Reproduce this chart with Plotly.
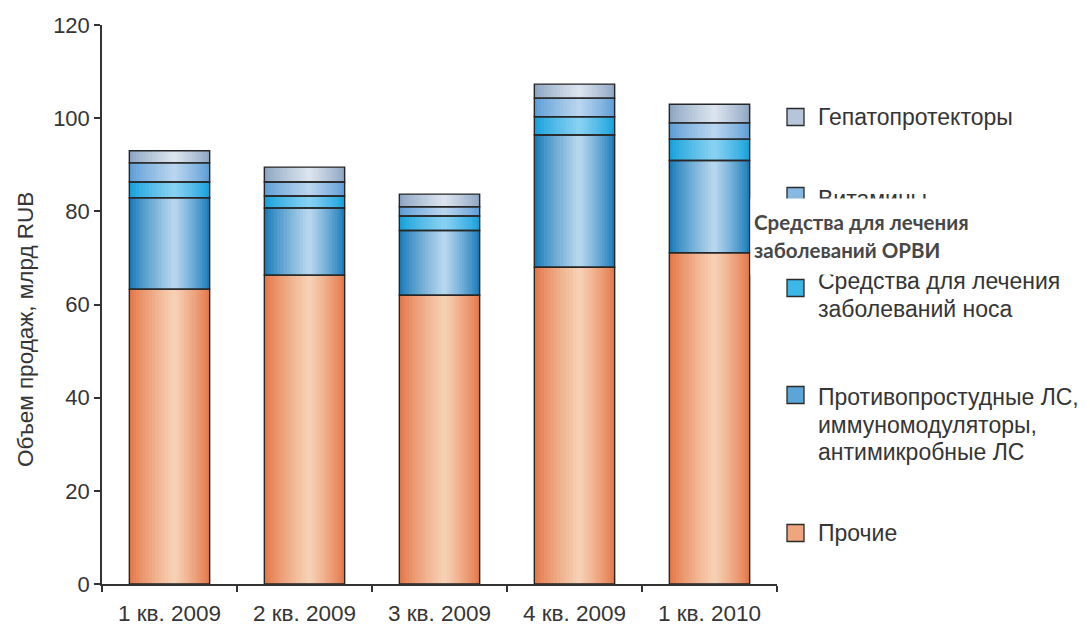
import plotly.graph_objects as go

# ---------------- data ----------------
quarters = ["1 кв. 2009", "2 кв. 2009", "3 кв. 2009", "4 кв. 2009", "1 кв. 2010"]
prochie = [63.3, 66.3, 62.0, 68.0, 71.1]
protivoprostudnye = [19.6, 14.4, 13.9, 28.4, 19.8]
nos = [3.4, 2.6, 3.1, 3.9, 4.6]
vitaminy = [4.1, 3.0, 2.0, 4.0, 3.5]
gepato = [2.6, 3.2, 2.7, 3.0, 4.0]

series_names = [
    ["Прочие"],
    ["Противопростудные ЛС,", "иммуномодуляторы,", "антимикробные ЛС"],
    ["Средства для лечения", "заболеваний носа"],
    ["Витамины"],
    ["Гепатопротекторы"],
]
overlay_lines = ["Средства для лечения", "заболеваний ОРВИ"]
yaxis_title = "Объем продаж, млрд RUB"

series_values = [prochie, protivoprostudnye, nos, vitaminy, gepato]
edge_colors = ["#E4794A", "#1A7CB9", "#17A2DD", "#5E9ED6", "#8EA6C3"]
center_colors = ["#F7D0B4", "#B6D6EE", "#86D1F2", "#B8D4EE", "#DAE3EE"]
mid_colors = ["#EFA67F", "#5AA6D6", "#3DB6E8", "#86B8E2", "#B5C6DA"]

# ---------------- helpers ----------------
def hex2rgb(h):
    h = h.lstrip("#")
    return tuple(int(h[i:i + 2], 16) for i in (0, 2, 4))


def mix(c1, c2, t):
    a, b = hex2rgb(c1), hex2rgb(c2)
    return "rgb(%d,%d,%d)" % tuple(round(a[i] + (b[i] - a[i]) * t) for i in range(3))


X0, X1, Y0, Y1 = 102, 777, 25, 584  # plot area in pixels


def px(x):
    return (x - X0) / (X1 - X0)


def py(y):
    return (Y1 - y) / (Y1 - Y0)


fig = go.Figure()

W = 0.595
N = 14
bases = []
cum = [0.0] * len(quarters)
for vals in series_values:
    bases.append(list(cum))
    cum = [c + v for c, v in zip(cum, vals)]

# gradient fill via nested bars
for si, vals in enumerate(series_values):
    for k in range(N):
        frac = k / N
        w = W * (1 - frac)
        t = (k / (N - 1)) ** 0.85
        shift = 0.06 * W * frac
        fig.add_trace(go.Bar(
            x=quarters, y=vals, base=bases[si],
            width=[w] * len(quarters), offset=[shift - w / 2] * len(quarters),
            marker=dict(color=mix(edge_colors[si], center_colors[si], t), line=dict(width=0)),
            showlegend=False, hoverinfo="skip",
        ))

# outlines
for si, vals in enumerate(series_values):
    fig.add_trace(go.Bar(
        x=quarters, y=vals, base=bases[si],
        width=[W] * len(quarters), offset=[-W / 2] * len(quarters),
        marker=dict(color="rgba(0,0,0,0)", line=dict(color="#262626", width=1.4)),
        showlegend=False, name=" ".join(series_names[si]),
    ))

text_color = "#353535"
font_main = "Liberation Sans, Arial, sans-serif"

annotations = []
shapes = []

# legend (top to bottom): series index, first-line y, square centre y
legend_items = [
    (4, 117, 117),
    (3, 199, 196),
    (2, 281, 288),
    (1, 397, 395),
    (0, 533, 533),
]
line_step = 27.5
for si, ty, sy in legend_items:
    shapes.append(dict(
        type="rect", xref="paper", yref="paper",
        x0=px(787), x1=px(804), y0=py(sy + 8.5), y1=py(sy - 8.5),
        fillcolor=mid_colors[si], line=dict(color="#2a2a2a", width=1.3),
    ))
    for li, line in enumerate(series_names[si]):
        annotations.append(dict(
            xref="paper", yref="paper", x=px(816), y=py(ty + li * line_step),
            xanchor="left", yanchor="middle", align="left",
            text=line, showarrow=False,
            font=dict(family=font_main, size=23, color=text_color),
        ))

# white overlay box with the bold label
annotations.append(dict(
    xref="paper", yref="paper", x=px(750), y=py(198),
    xanchor="left", yanchor="top", text=" ", showarrow=False,
    width=340, height=75, bgcolor="white", borderpad=0,
))
for li, line in enumerate(overlay_lines):
    annotations.append(dict(
        xref="paper", yref="paper", x=px(752), y=py(222 + li * 28),
        xanchor="left", yanchor="middle", align="left",
        text="<b>%s</b>" % line, showarrow=False,
        font=dict(family="Lato, sans-serif", size=20.5, color="#474747"),
    ))

# y-axis title
annotations.append(dict(
    xref="paper", yref="paper", x=px(25), y=py(330),
    xanchor="center", yanchor="middle", textangle=-90,
    text=yaxis_title, showarrow=False,
    font=dict(family=font_main, size=22.5, color=text_color),
))

fig.update_layout(
    width=1090, height=625,
    margin=dict(l=X0, r=1090 - X1, t=Y0, b=625 - Y1, autoexpand=False),
    paper_bgcolor="white", plot_bgcolor="white",
    barmode="overlay",
    showlegend=False,
    font=dict(family=font_main, size=22, color=text_color),
    annotations=annotations,
    shapes=shapes,
    xaxis=dict(
        type="category", range=[-0.5, 4.5], automargin=False,
        showline=True, linecolor="#333", linewidth=1.5,
        ticks="outside", tickson="boundaries", ticklen=6, tickcolor="#333", tickwidth=1.5,
        ticklabelstandoff=8,
        showgrid=False, zeroline=False,
        tickfont=dict(family=font_main, size=22.5, color=text_color),
    ),
    yaxis=dict(
        range=[0, 120], tickvals=[0, 20, 40, 60, 80, 100, 120], automargin=False,
        showline=True, linecolor="#333", linewidth=1.5,
        ticks="outside", ticklen=6, tickcolor="#333", tickwidth=1.5,
        showgrid=False, zeroline=False,
        tickfont=dict(family=font_main, size=22, color=text_color),
    ),
)

fig.write_html("out.html")
